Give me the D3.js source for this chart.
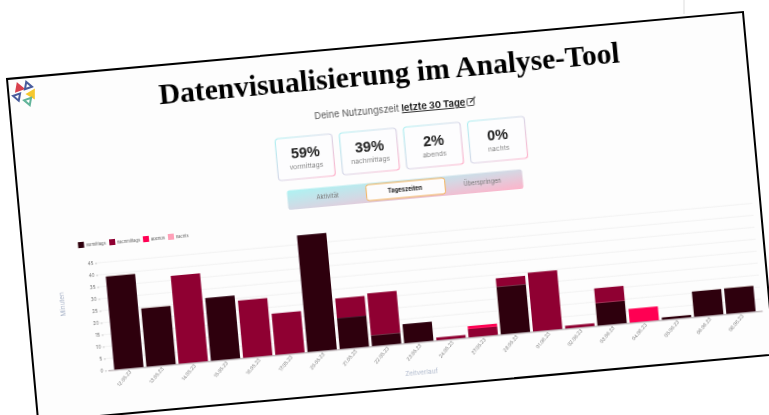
<!DOCTYPE html>
<html>
<head>
<meta charset="utf-8">
<script src="https://cdn.jsdelivr.net/npm/d3@7"></script>
<style>
  html, body { margin: 0; padding: 0; background: #fff; overflow: hidden; }
  svg { display: block; }
  text { font-family: "Inter", "Liberation Sans", sans-serif; }
</style>
</head>
<body>
<div id="chart"></div>
<script>
// data
const days = ["12.05.23", "13.05.23", "14.05.23", "15.05.23", "16.05.23", "17.05.23", "20.05.23",
              "21.05.23", "22.05.23", "23.05.23", "24.05.23", "27.05.23", "28.05.23", "01.06.23",
              "02.06.23", "03.06.23", "04.06.23", "05.06.23", "06.06.23", "08.06.23"];
const vormittags  = [39, 24.4, 0, 26.3, 0, 0, 48.8, 13, 4.6, 8, 0, 0, 20, 0, 0, 9.4, 0, 1, 10.6, 10.7];
const nachmittags = [0, 0, 36.8, 0, 24, 17.3, 0, 8.2, 17.5, 0, 1.2, 3.5, 3.5, 24.6, 1.2, 6.2, 0, 0, 0, 0];
const abends      = [0, 0, 0, 0, 0, 0, 0, 0, 0, 0, 0, 1.2, 0, 0, 0, 0, 5.8, 0, 0, 0];
const nachts      = [0, 0, 0, 0, 0, 0, 0, 0, 0, 0, 0, 0, 0, 0, 0, 0, 0, 0, 0, 0];
const seriesNames = ["vormittags", "nachmittags", "abends", "nachts"];
const shares = ["59%", "39%", "2%", "0%"];
const tabs = ["Aktivität", "Tageszeiten", "Überspringen"];
const yTicks = [0, 5, 10, 15, 20, 25, 30, 35, 40, 45];

const width = 769, height = 415;
const colors = ["#2d0011", "#8f0030", "#ff0052", "#ffa0b8"];

const svg = d3.select("#chart").append("svg")
    .attr("width", width)
    .attr("height", height);

const defs = svg.append("defs");

function gradient(id, stops) {
  const g = defs.append("linearGradient").attr("id", id)
    .attr("x1", "0%").attr("y1", "0%").attr("x2", "100%").attr("y2", "100%");
  stops.forEach(function(c, i) {
    g.append("stop").attr("offset", (i * 100 / (stops.length - 1)) + "%").attr("stop-color", c);
  });
}
gradient("cardBorder", ["#aef0f2", "#d8d8e8", "#ffb4cc"]);
gradient("tabFill", ["#aef2f2", "#d4d8e4", "#fdb4ca"]);

defs.append("filter").attr("id", "soft")
    .attr("filterUnits", "userSpaceOnUse")
    .attr("x", -50).attr("y", -50).attr("width", 900).attr("height", 500)
  .append("feGaussianBlur").attr("stdDeviation", 0.7);
defs.append("filter").attr("id", "softTitle")
    .attr("filterUnits", "userSpaceOnUse")
    .attr("x", -50).attr("y", -50).attr("width", 900).attr("height", 500)
  .append("feGaussianBlur").attr("stdDeviation", 0.35);

// faint line of the page behind the sheet
svg.append("line")
    .attr("x1", 684).attr("x2", 684).attr("y1", 0).attr("y2", 14)
    .attr("stroke", "#eeeeee").attr("stroke-width", 2);

// the whole sheet is tilted
const sheet = svg.append("g").attr("transform", "translate(7,79) rotate(-5.2)");

sheet.append("rect")
    .attr("width", 739).attr("height", 344)
    .attr("fill", "#fdfdfd");

const content = sheet.append("g").attr("filter", "url(#soft)");

// header
const head = content.append("text")
    .attr("x", 302.8).attr("y", 68)
    .style("font-size", "9.2px")
    .attr("fill", "#555");
head.append("tspan").text("Deine Nutzungszeit ");
head.append("tspan").text("letzte 30 Tage")
    .attr("font-weight", "700").attr("fill", "#222").attr("text-decoration", "underline");

const icon = content.append("g").attr("transform", "translate(456,60)");
icon.append("rect").attr("x", 0).attr("y", 1.5).attr("width", 7).attr("height", 7).attr("rx", 1)
    .attr("fill", "none").attr("stroke", "#555").attr("stroke-width", 1);
icon.append("line").attr("x1", 3).attr("y1", 5.5).attr("x2", 8.5).attr("y2", 0)
    .attr("stroke", "#555").attr("stroke-width", 1.4);

// cards
const card = d3.scaleBand().domain(shares.map((d, i) => i)).range([261.4, 518.9]).padding(0);

const cards = content.selectAll("g.card")
  .data(shares)
  .enter()
  .append("g")
    .attr("class", "card")
    .attr("transform", (d, i) => "translate(" + card(i) + ",84)");

cards.append("rect")
    .attr("width", 57).attr("height", 42).attr("rx", 3)
    .attr("fill", "#fdfdfe")
    .attr("stroke", "url(#cardBorder)")
    .attr("stroke-width", 1.2);

cards.append("text")
    .attr("x", 29).attr("y", 20.5)
    .attr("text-anchor", "middle")
    .attr("font-weight", "700")
    .attr("fill", "#222")
    .style("font-family", '"Liberation Sans", sans-serif')
    .style("font-size", "14.5px")
    .text(d => d);

cards.append("text")
    .attr("x", 29).attr("y", 31.5)
    .attr("text-anchor", "middle")
    .attr("fill", "#888")
    .style("font-size", "6.8px")
    .text((d, i) => seriesNames[i]);

// tab bar
content.append("rect")
    .attr("x", 268.5).attr("y", 136.5)
    .attr("width", 236).attr("height", 19.5).attr("rx", 2.5)
    .attr("fill", "url(#tabFill)");

content.append("rect")
    .attr("x", 347.6).attr("y", 138)
    .attr("width", 79).attr("height", 16).attr("rx", 2.5)
    .attr("fill", "#fdfcfd")
    .attr("stroke", "#f3b35c")
    .attr("stroke-width", 1);

const tabX = d3.scalePoint().domain(tabs).range([308.7, 464]);

content.selectAll("text.tab")
  .data(tabs)
  .enter()
  .append("text")
    .attr("class", "tab")
    .attr("x", d => tabX(d))
    .attr("y", 148.2)
    .attr("text-anchor", "middle")
    .attr("font-weight", (d, i) => i == 1 ? "700" : "400")
    .attr("fill", (d, i) => i == 1 ? "#222" : "#777")
    .style("font-size", "5.8px")
    .text(d => d);

// legend
const legendX = [58.7, 90, 123.9, 149];

const legend = content.selectAll("g.legend")
  .data(seriesNames)
  .enter()
  .append("g")
    .attr("class", "legend")
    .attr("transform", (d, i) => "translate(" + legendX[i] + ",172)");

legend.append("rect")
    .attr("x", -3).attr("y", -3)
    .attr("width", 6).attr("height", 6)
    .attr("fill", (d, i) => colors[i]);

legend.append("text")
    .attr("x", 5).attr("y", 1.5)
    .attr("fill", "#555")
    .style("font-size", "4px")
    .text(d => d);

// scales
const x = d3.scaleBand()
    .domain(days)
    .range([74, 731])
    .paddingInner(0.09)
    .paddingOuter(0.2);

const y = d3.scaleLinear()
    .domain([0, 50])
    .range([299.3, 179.3]);

// grid
content.selectAll("line.grid")
  .data(yTicks.slice(1))
  .enter()
  .append("line")
    .attr("class", "grid")
    .attr("x1", 73).attr("x2", 731)
    .attr("y1", d => y(d)).attr("y2", d => y(d))
    .attr("stroke", "#f2f2f2")
    .attr("stroke-width", 1);

// stacked bars
const rows = days.map(function(d, i) {
  return {day: d, vormittags: vormittags[i], nachmittags: nachmittags[i], abends: abends[i], nachts: nachts[i]};
});
const stacked = d3.stack().keys(seriesNames)(rows);

content.selectAll("g.layer")
  .data(stacked)
  .enter()
  .append("g")
    .attr("class", "layer")
    .attr("fill", (d, i) => colors[i])
  .selectAll("rect")
  .data(d => d.filter(v => v[1] > v[0]))
  .enter()
  .append("rect")
    .attr("x", d => x(d.data.day))
    .attr("y", d => y(d[1]))
    .attr("width", x.bandwidth())
    .attr("height", d => y(d[0]) - y(d[1]));

// axes
const xAxis = content.append("g")
    .attr("transform", "translate(0," + y(0) + ")")
    .call(d3.axisBottom(x).tickSize(0));
xAxis.select(".domain").attr("stroke", "#8a7a80").attr("stroke-width", 0.7);
xAxis.selectAll("text")
    .attr("text-anchor", "end")
    .attr("dx", "-1px")
    .attr("dy", "1.5px")
    .attr("transform", "rotate(-45)")
    .attr("fill", "#808080")
    .style("font-size", "4.8px");

const yAxis = content.append("g")
    .attr("transform", "translate(73,0)")
    .call(d3.axisLeft(y).tickValues(yTicks).tickSize(2).tickPadding(1.5));
yAxis.select(".domain").remove();
yAxis.selectAll("line").attr("stroke", "#999").attr("stroke-width", 0.5);
yAxis.selectAll("text")
    .attr("fill", "#777")
    .style("font-size", "4.8px");

content.append("text")
    .attr("transform", "translate(37,229.4) rotate(-90)")
    .attr("text-anchor", "middle")
    .attr("fill", "#b0bacd")
    .style("font-size", "6.4px")
    .text("Minuten");

content.append("text")
    .attr("x", 386.3).attr("y", 331.5)
    .attr("text-anchor", "middle")
    .attr("fill", "#b0bacd")
    .style("font-size", "6.4px")
    .text("Zeitverlauf");

// title
sheet.append("text")
    .attr("x", 381).attr("y", 39)
    .attr("text-anchor", "middle")
    .attr("filter", "url(#softTitle)")
    .attr("font-weight", "700")
    .attr("fill", "#000")
    .style("font-family", '"Liberation Serif", serif')
    .style("font-size", "29.6px")
    .text("Datenvisualisierung im Analyse-Tool");

// frame
sheet.append("rect")
    .attr("width", 739).attr("height", 344)
    .attr("fill", "none")
    .attr("stroke", "#000")
    .attr("stroke-width", 2);

// logo
const logoColors = ["#d8404e", "#4a5c9c", "#4a5c9c", "#f5c82e", "#62b49a"];
const logoFills = ["#d8404e", "#fff", "#fff", "#f5c82e", "#fff"];
const logoSpots = [[19, 88, -20], [27.7, 86, 100], [17.3, 96.7, 160], [31.7, 94, -90], [28.3, 101, 40]];

svg.append("g").attr("filter", "url(#softTitle)")
  .selectAll("path")
  .data(logoSpots)
  .enter()
  .append("path")
    .attr("d", d3.symbol(d3.symbolTriangle, 24))
    .attr("transform", d => "translate(" + d[0] + "," + d[1] + ") rotate(" + d[2] + ")")
    .attr("fill", (d, i) => logoFills[i])
    .attr("stroke", (d, i) => logoColors[i])
    .attr("stroke-width", 2);
</script>
</body>
</html>
